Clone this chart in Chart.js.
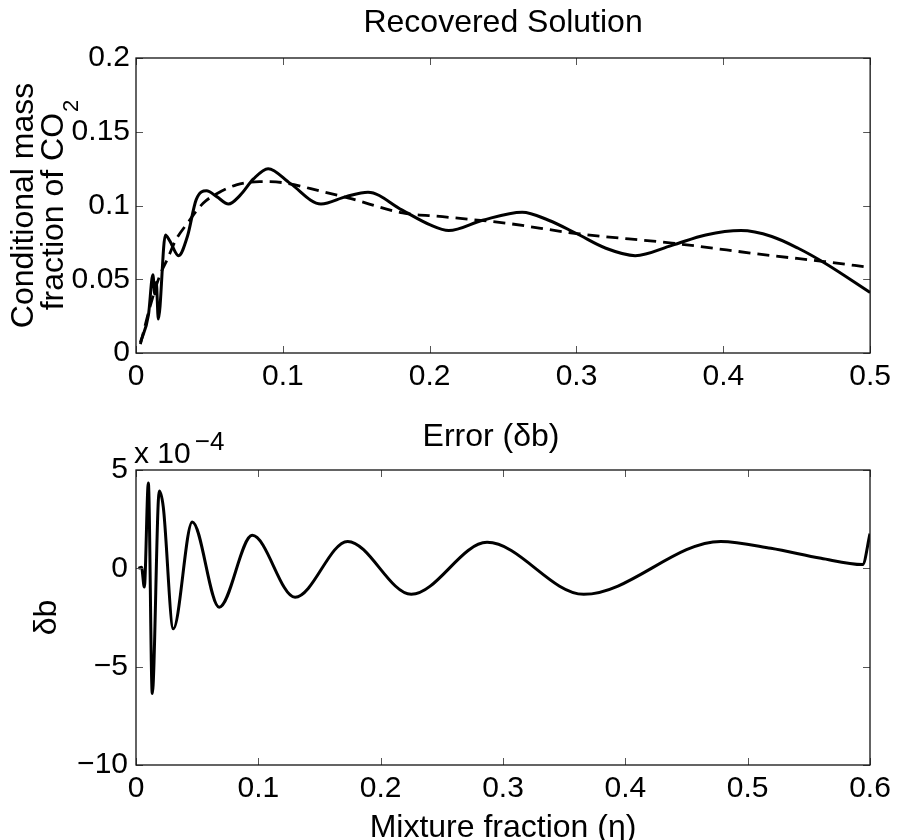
<!DOCTYPE html>
<html>
<head>
<meta charset="utf-8">
<script src="https://cdn.jsdelivr.net/npm/chart.js@4.4.1/dist/chart.umd.min.js"></script>
<style>
  html, body { margin: 0; padding: 0; background: #fff; }
  #wrap { position: relative; width: 897px; height: 840px; }
  .pane { position: absolute; left: 0; width: 897px; height: 420px; }
</style>
</head>
<body>
<div id="wrap">
  <div class="pane" style="top:0"><canvas id="topChart" width="897" height="420"></canvas></div>
  <div class="pane" style="top:420px"><canvas id="errChart" width="897" height="420"></canvas></div>
</div>
<script>
// top panel: recovered solution (solid) against the exact profile (dashed)
const etaRecovered = [0.003, 0.0085, 0.0115, 0.0128, 0.0138, 0.0152, 0.020, 0.023, 0.029, 0.035, 0.041, 0.048, 0.055, 0.063, 0.071, 0.080, 0.090, 0.105, 0.126, 0.143, 0.158, 0.181, 0.200, 0.213, 0.236, 0.263, 0.281, 0.300, 0.320, 0.340, 0.365, 0.388, 0.412, 0.433, 0.451, 0.469, 0.500];
const co2Recovered = [0.007, 0.026, 0.053, 0.040, 0.048, 0.023, 0.080, 0.076, 0.066, 0.079, 0.104, 0.110, 0.106, 0.101, 0.107, 0.118, 0.125, 0.115, 0.101, 0.106, 0.109, 0.097, 0.087, 0.083, 0.090, 0.0955, 0.090, 0.081, 0.071, 0.066, 0.073, 0.080, 0.083, 0.079, 0.071, 0.061, 0.041];
const etaExact = [0.003, 0.010, 0.016, 0.022, 0.0265, 0.035, 0.0457, 0.055, 0.0684, 0.0842, 0.100, 0.127, 0.145, 0.1816, 0.2088, 0.252, 0.300, 0.365, 0.433, 0.469, 0.500];
const co2Exact = [0.006, 0.033, 0.052, 0.065, 0.0755, 0.088, 0.1015, 0.108, 0.114, 0.1162, 0.1155, 0.1094, 0.105, 0.095, 0.0924, 0.088, 0.081, 0.0745, 0.066, 0.062, 0.058];
const topXTicks = [0, 0.1, 0.2, 0.3, 0.4, 0.5];
const topYTicks = [0, 0.05, 0.1, 0.15, 0.2];

// bottom panel: error, values in units of 1e-4
const etaError = [0.002, 0.0045, 0.0068, 0.0101, 0.0133, 0.019, 0.0223, 0.0305, 0.046, 0.068, 0.095, 0.130, 0.173, 0.225, 0.287, 0.366, 0.478, 0.519, 0.560, 0.594, 0.600];
const deltaB = [0, 0.05, -0.95, 4.34, -6.37, 3.93, 3.12, -3.07, 2.36, -1.98, 1.68, -1.47, 1.37, -1.32, 1.32, -1.32, 1.37, 1.02, 0.51, 0.19, 1.76];
const errXTicks = [0, 0.1, 0.2, 0.3, 0.4, 0.5, 0.6];
const errYTicks = [-10, -5, 0, 5];

const FONT = '"Liberation Sans", Arial, Helvetica, sans-serif';
const toPoints = (xs, ys) => xs.map((x, i) => ({ x: x, y: ys[i] }));
const minusSign = v => String(v).replace('-', '\u2212');

// matlab style box with inward ticks, plus the free text of each panel
const makeFrame = (drawText) => ({
    id: 'frame',
    afterDraw(chart) {
        const { ctx, chartArea: a, scales } = chart;
        const tick = 7;
        ctx.save();
        ctx.strokeStyle = '#555';
        ctx.lineWidth = 1;
        ctx.beginPath();
        scales.x.ticks.forEach(t => {
            const px = Math.round(scales.x.getPixelForValue(t.value)) + 0.5;
            ctx.moveTo(px, a.bottom); ctx.lineTo(px, a.bottom - tick);
            ctx.moveTo(px, a.top); ctx.lineTo(px, a.top + tick);
        });
        scales.y.ticks.forEach(t => {
            const py = Math.round(scales.y.getPixelForValue(t.value)) + 0.5;
            ctx.moveTo(a.left, py); ctx.lineTo(a.left + tick, py);
            ctx.moveTo(a.right, py); ctx.lineTo(a.right - tick, py);
        });
        ctx.stroke();
        ctx.strokeStyle = '#111';
        ctx.lineWidth = 1.3;
        ctx.strokeRect(a.left, a.top, a.right - a.left, a.bottom - a.top);
        ctx.fillStyle = '#000';
        drawText(ctx, a);
        ctx.restore();
    }
});

const commonOptions = (xTicks, yTicks, xMax, yMin, yMax, pad, xAxisHeight, yPad) => ({
    responsive: false,
    animation: false,
    layout: { padding: pad },
    plugins: { legend: { display: false }, tooltip: { enabled: false } },
    scales: {
        x: {
            type: 'linear', min: 0, max: xMax,
            grid: { display: false, drawTicks: false },
            border: { display: false },
            afterBuildTicks: s => { s.ticks = xTicks.map(v => ({ value: v })); },
            afterFit: s => { s.height = xAxisHeight; },
            ticks: { color: '#000', padding: 6, font: { family: FONT, size: 30 }, maxRotation: 0, callback: minusSign }
        },
        y: {
            type: 'linear', min: yMin, max: yMax,
            grid: { display: false, drawTicks: false },
            border: { display: false },
            afterBuildTicks: s => { s.ticks = yTicks.map(v => ({ value: v })); },
            afterFit: s => { s.width = 136; },
            ticks: { color: '#000', padding: yPad, font: { family: FONT, size: 30 }, callback: minusSign }
        }
    }
});

const topFrame = makeFrame((ctx, a) => {
    const cx = (a.left + a.right) / 2;
    const cy = (a.top + a.bottom) / 2;
    ctx.font = '32px ' + FONT;
    ctx.textAlign = 'center';
    ctx.textBaseline = 'middle';
    ctx.fillText('Recovered Solution', cx, a.top - 35);

    // rotated two line y label with subscript
    ctx.save();
    ctx.translate(24, cy);
    ctx.rotate(-Math.PI / 2);
    ctx.fillText('Conditional mass', 0, 0);
    ctx.restore();

    ctx.save();
    ctx.translate(54, cy);
    ctx.rotate(-Math.PI / 2);
    ctx.font = '32px ' + FONT;
    const main = 'fraction of CO';
    const w1 = ctx.measureText(main).width;
    ctx.font = '22px ' + FONT;
    const w2 = ctx.measureText('2').width;
    const start = -(w1 + w2) / 2;
    ctx.textAlign = 'left';
    ctx.font = '32px ' + FONT;
    ctx.fillText(main, start, 0);
    ctx.font = '22px ' + FONT;
    ctx.fillText('2', start + w1 + 1, 18);
    ctx.restore();
});

const errFrame = makeFrame((ctx, a) => {
    const cx = (a.left + a.right) / 2;
    const cy = (a.top + a.bottom) / 2;
    ctx.font = '32px ' + FONT;
    ctx.textAlign = 'center';
    ctx.textBaseline = 'middle';
    ctx.fillText('Error (\u03b4b)', cx - 12, a.top - 33);

    ctx.textBaseline = 'alphabetic';
    ctx.fillText('Mixture fraction (\u03b7)', cx, a.bottom + 72);

    ctx.save();
    ctx.translate(47, cy);
    ctx.rotate(-Math.PI / 2);
    ctx.textBaseline = 'middle';
    ctx.fillText('\u03b4b', 0, 0);
    ctx.restore();

    // axis multiplier
    ctx.textAlign = 'left';
    ctx.textBaseline = 'alphabetic';
    ctx.font = '30px ' + FONT;
    ctx.fillText('x 10', a.left - 2, a.top - 7);
    const w = ctx.measureText('x 10').width;
    ctx.font = '26px ' + FONT;
    ctx.fillText('\u22124', a.left - 2 + w + 4, a.top - 20);
});

new Chart(document.getElementById('topChart').getContext('2d'), {
    type: 'line',
    data: {
        datasets: [{
            label: 'Recovered',
            data: toPoints(etaRecovered, co2Recovered),
            borderColor: '#000',
            borderWidth: 3,
            pointRadius: 0,
            cubicInterpolationMode: 'monotone',
            fill: false
        }, {
            label: 'Exact',
            data: toPoints(etaExact, co2Exact),
            borderColor: '#000',
            borderWidth: 2.8,
            borderDash: [12, 7],
            pointRadius: 0,
            cubicInterpolationMode: 'monotone',
            fill: false
        }]
    },
    options: commonOptions(topXTicks, topYTicks, 0.5, 0, 0.2, { left: 0, right: 25, top: 58, bottom: 0 }, 67, 6),
    plugins: [topFrame]
});

new Chart(document.getElementById('errChart').getContext('2d'), {
    type: 'line',
    data: {
        datasets: [{
            label: '\u03b4b',
            data: toPoints(etaError, deltaB),
            borderColor: '#000',
            borderWidth: 3,
            pointRadius: 0,
            cubicInterpolationMode: 'monotone',
            fill: false
        }]
    },
    options: commonOptions(errXTicks, errYTicks, 0.6, -10, 5, { left: 0, right: 27, top: 50, bottom: 0 }, 75, 8),
    plugins: [errFrame]
});
</script>
</body>
</html>
